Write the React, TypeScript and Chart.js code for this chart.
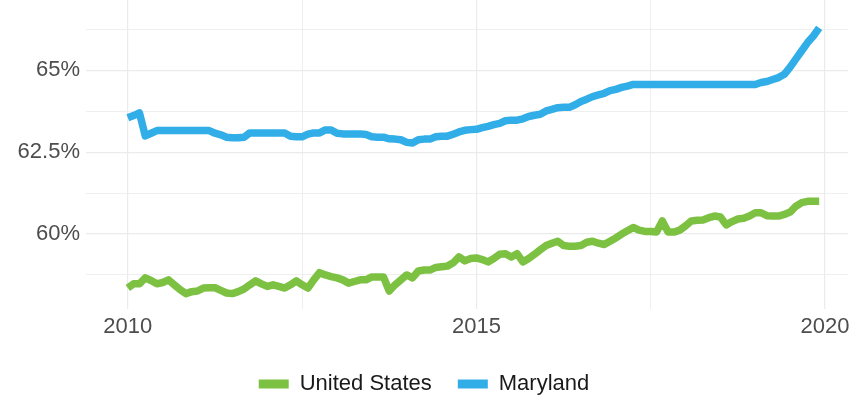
import React, { useEffect, useRef } from "react";
import { Chart, registerables } from "chart.js";

Chart.register(...registerables);

const START_YEAR = 2010;
const MONTHS = 120;

const US_VALUES = [
  58.35, 58.48, 58.48, 58.66, 58.58, 58.48, 58.52, 58.6, 58.45, 58.3, 58.18, 58.24,
  58.26, 58.35, 58.36, 58.36, 58.28, 58.2, 58.18, 58.24, 58.32, 58.45, 58.57, 58.48,
  58.4, 58.45, 58.4, 58.35, 58.45, 58.57, 58.45, 58.35, 58.6, 58.82, 58.75, 58.7,
  58.66, 58.6, 58.5, 58.55, 58.6, 58.6, 58.69, 58.69, 58.69, 58.26, 58.45, 58.6,
  58.75, 58.66, 58.87, 58.9, 58.9, 58.98, 59.0, 59.02, 59.12, 59.3, 59.18, 59.25,
  59.27, 59.22, 59.15, 59.25, 59.38, 59.4, 59.3, 59.4, 59.15, 59.25, 59.38, 59.52,
  59.65, 59.72, 59.78, 59.65, 59.63, 59.63, 59.65, 59.75, 59.78, 59.72, 59.68, 59.78,
  59.88, 60.0, 60.1, 60.2, 60.12, 60.08, 60.08, 60.06, 60.4, 60.06, 60.06, 60.12,
  60.25, 60.4, 60.42, 60.43, 60.5, 60.55, 60.52, 60.28, 60.38, 60.46, 60.48, 60.55,
  60.65, 60.65, 60.56, 60.55, 60.55, 60.6, 60.67, 60.85, 60.96, 61.0, 61.0, 61.0,
];

const MD_VALUES = [
  63.55, 63.62, 63.7, 63.0, 63.08, 63.16, 63.16, 63.16, 63.16, 63.16, 63.16, 63.16,
  63.16, 63.16, 63.16, 63.08, 63.03, 62.96, 62.94, 62.94, 62.96, 63.09, 63.09, 63.09,
  63.09, 63.09, 63.09, 63.09, 62.99, 62.97, 62.97, 63.05, 63.09, 63.09, 63.18, 63.18,
  63.08, 63.06, 63.06, 63.06, 63.06, 63.04, 62.97, 62.96, 62.96, 62.91, 62.9, 62.88,
  62.8, 62.78, 62.88, 62.9, 62.9, 62.97, 62.99, 62.99, 63.05, 63.12, 63.17, 63.19,
  63.2, 63.25, 63.29, 63.34, 63.38, 63.46, 63.48, 63.48, 63.52, 63.59, 63.63, 63.66,
  63.76, 63.81, 63.86, 63.87, 63.87, 63.95, 64.05, 64.12, 64.2, 64.25, 64.3, 64.38,
  64.42, 64.48, 64.52, 64.57, 64.57, 64.57, 64.57, 64.57, 64.57, 64.57, 64.57, 64.57,
  64.57, 64.57, 64.57, 64.57, 64.57, 64.57, 64.57, 64.57, 64.57, 64.57, 64.57, 64.57,
  64.57, 64.63, 64.66, 64.72, 64.78, 64.88, 65.1, 65.35, 65.6, 65.85, 66.05, 66.3,
];

const X_TICKS = [2010, 2012.5, 2015, 2017.5, 2020];
const X_LABELS = ["2010", "", "2015", "", "2020"];
const Y_TICKS = [58.75, 60, 61.25, 62.5, 63.75, 65, 66.25];
const Y_LABELS = ["", "60%", "", "62.5%", "", "65%", ""];

const SERIES_NAMES = ["United States", "Maryland"];
const COLORS = ["#7CC142", "#31ADE8"];

const monthX = (i: number) => START_YEAR + i / 12;

export default function App() {
  const ref = useRef<HTMLCanvasElement | null>(null);

  useEffect(() => {
    if (!ref.current) return;
    const toPoints = (vals: number[]) => vals.slice(0, MONTHS).map((v, i) => ({ x: monthX(i), y: v }));
    const font = "'Liberation Sans', Arial, sans-serif";
    const mkDs = (k: number, vals: number[]) => ({
      label: SERIES_NAMES[k],
      data: toPoints(vals),
      borderColor: COLORS[k],
      backgroundColor: COLORS[k],
      borderWidth: 7.5,
      pointRadius: 0,
      borderCapStyle: "butt" as const,
      borderJoinStyle: "round" as const,
      tension: 0,
    });
    const chart = new Chart(ref.current, {
      type: "line",
      data: { datasets: [mkDs(0, US_VALUES), mkDs(1, MD_VALUES)] },
      options: {
        responsive: false,
        animation: false,
        layout: { padding: { top: 0, right: 8, left: 0, bottom: -2 } },
        plugins: {
          legend: {
            position: "bottom",
            labels: {
              boxWidth: 30,
              boxHeight: 9,
              padding: 26,
              color: "#1a1a1a",
              font: { family: font, size: 22 },
              generateLabels: (c: any) =>
                Chart.defaults.plugins.legend.labels.generateLabels(c).map((l: any) => ({
                  ...l,
                  lineWidth: 0,
                  strokeStyle: "rgba(0,0,0,0)",
                })),
            },
          },
          tooltip: { enabled: false },
        },
        scales: {
          x: {
            type: "linear",
            min: 2009.4,
            max: 2020.33,
            afterBuildTicks: (scale: any) => {
              scale.ticks = X_TICKS.map((v) => ({ value: v }));
            },
            afterFit: (scale: any) => {
              scale.height = 38;
            },
            ticks: {
              autoSkip: false,
              maxRotation: 0,
              color: "#4d4d4d",
              font: { family: font, size: 22 },
              padding: 5,
              callback: (_v: any, i: number) => X_LABELS[i],
            },
            grid: {
              color: "#ebebeb",
              lineWidth: (ctx: any) => (X_LABELS[ctx.index] ? 1.2 : 0.8),
              drawTicks: false,
            },
            border: { display: false },
          },
          y: {
            type: "linear",
            min: 57.71,
            max: 67.15,
            afterBuildTicks: (scale: any) => {
              scale.ticks = Y_TICKS.map((v) => ({ value: v }));
            },
            afterFit: (scale: any) => {
              scale.width = 86;
              scale.paddingTop = 0;
              scale.paddingBottom = 0;
            },
            ticks: {
              autoSkip: false,
              color: "#4d4d4d",
              font: { family: font, size: 22 },
              padding: 6,
              callback: (_v: any, i: number) => Y_LABELS[i],
            },
            grid: {
              color: "#ebebeb",
              lineWidth: (ctx: any) => (Y_LABELS[ctx.index] ? 1.2 : 0.8),
              drawTicks: false,
            },
            border: { display: false },
          },
        },
      },
    });
    return () => chart.destroy();
  }, []);

  return (
    <div style={{ position: "absolute", left: 0, top: 0, width: 856, height: 403, background: "#fff" }}>
      <canvas ref={ref} width={856} height={403} />
    </div>
  );
}
